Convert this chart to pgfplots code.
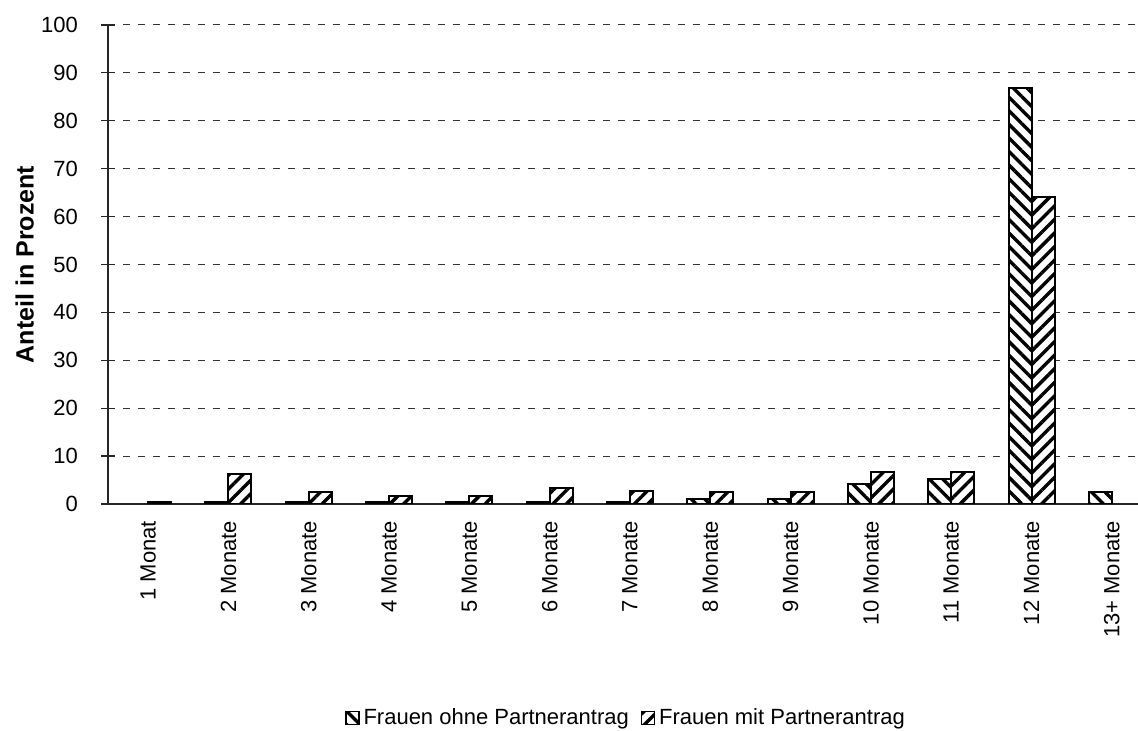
\documentclass[border=0pt]{standalone}
\usepackage{fontspec}
\setmainfont{Liberation Sans}
\usepackage{pgfplots}
\pgfplotsset{compat=1.18}
\usetikzlibrary{patterns.meta}
\tikzset{
  ohne/.style={draw=black, line width=1pt, fill=white, postaction={pattern={Lines[angle=-45,distance=4.8pt,line width=1.7pt]}}},
  mit/.style={draw=black, line width=1pt, fill=white, postaction={pattern={Lines[angle=45,distance=4.8pt,line width=1.7pt]}}},
}
\begin{document}
\begin{tikzpicture}
\begin{axis}[
  scale only axis, width=515pt, height=239.5pt,
  ybar=0pt, bar width=11.5pt,
  xmin=-0.5, xmax=12.325, ymin=0, ymax=100,
  axis x line*=bottom, axis y line*=left,
  axis line style={-, black!85, line width=0.6pt},
  ytick={0,10,...,100},
  tick align=center, major tick length=7pt,
  tick style={black!85, line width=0.6pt},
  ymajorgrids, grid style={black!80, line width=0.5pt, dash pattern=on 3.5pt off 4pt},
  xtick={0,...,12},
  xticklabels={1 Monat,2 Monate,3 Monate,4 Monate,5 Monate,6 Monate,7 Monate,8 Monate,9 Monate,10 Monate,11 Monate,12 Monate,13+ Monate},
  xtick style={draw=none},
  extra x ticks={-0.5,0.5,...,11.5},
  extra x tick labels={},
  extra x tick style={tick style={draw=black!85, line width=0.6pt}, major tick length=8pt, tick align=outside, grid=none},
  xticklabel style={rotate=90, anchor=east, font=\fontsize{11}{13}\selectfont, xshift=-1.5pt},
  yticklabel style={font=\fontsize{11}{13}\selectfont, xshift=-8pt},
  /pgf/number format/assume math mode=true,
  ylabel={\textbf{Anteil in Prozent}},
  ylabel style={at={(axis description cs:-0.081,0.5)}, anchor=center, rotate=0, font=\fontsize{12.5}{15}\selectfont},
  legend style={at={(axis description cs:0.504,-0.447)}, anchor=center, draw=none, legend columns=2,
    font=\fontsize{11}{13}\selectfont, /tikz/every even column/.append style={column sep=4pt}},
  legend image code/.code={\draw[#1, line width=0.6pt] (-2pt,-3.2pt) rectangle (4.5pt,3.3pt);},
]
\addplot[ohne] coordinates {(1,0.4) (2,0.4) (3,0.4) (4,0.4) (5,0.4) (6,0.4) (7,1.0) (8,1.0) (9,4.2) (10,5.3) (11,86.9) (12,2.4)};
\addplot[mit] coordinates {(0,0.4) (1,6.2) (2,2.6) (3,1.7) (4,1.7) (5,3.4) (6,2.8) (7,2.5) (8,2.5) (9,6.6) (10,6.6) (11,64.0)};
\legend{Frauen ohne Partnerantrag,Frauen mit Partnerantrag}
\coordinate (bl) at (rel axis cs:0,0);
\coordinate (tr) at (rel axis cs:1,1);
\end{axis}
\pgfresetboundingbox
\path[use as bounding box] ([shift={(-54pt,-113.5pt)}]bl) rectangle ([shift={(0pt,12.5pt)}]tr);
\end{tikzpicture}
\end{document}
